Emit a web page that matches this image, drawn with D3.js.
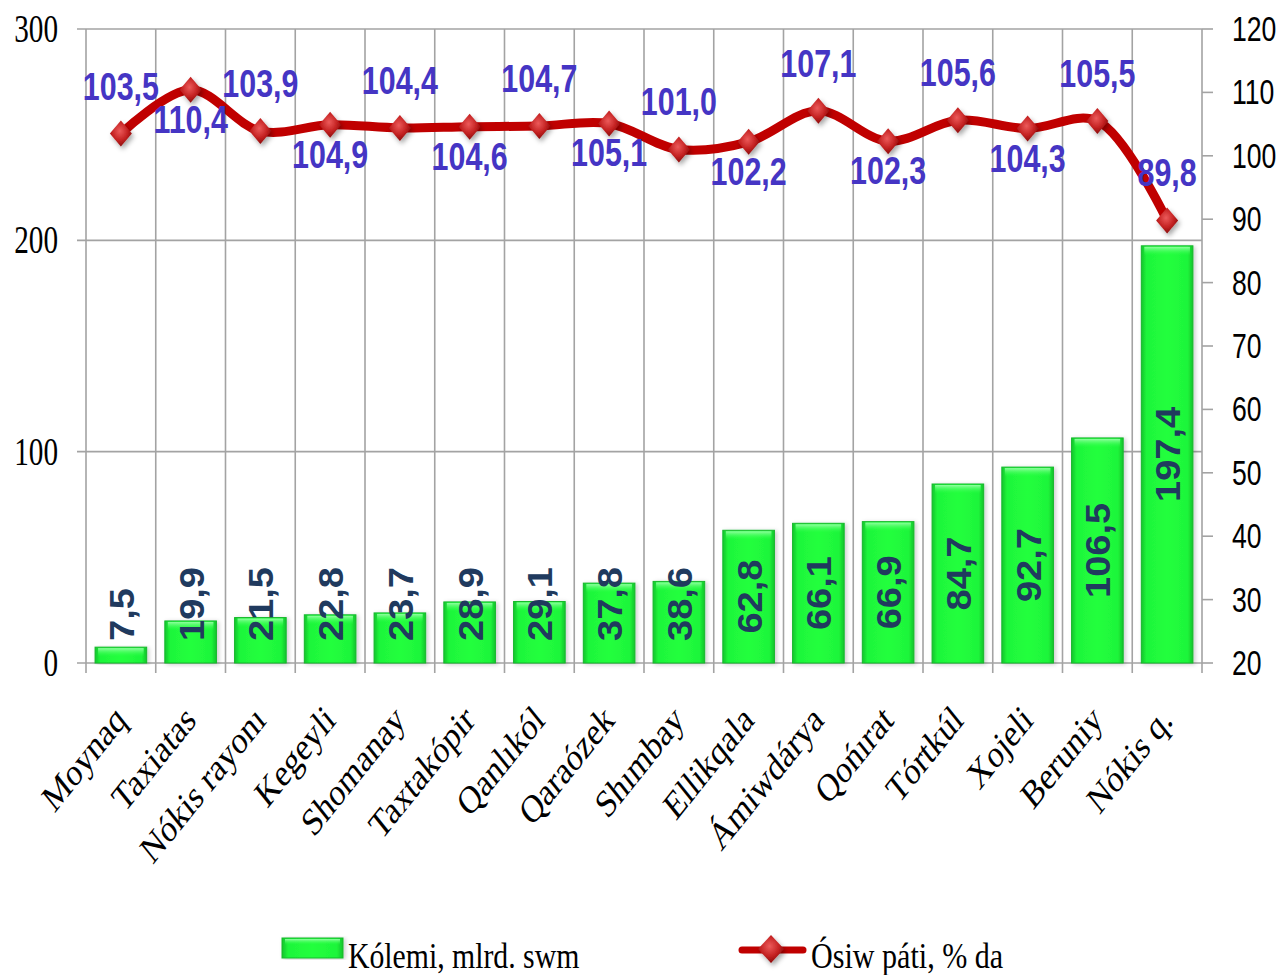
<!doctype html>
<html>
<head>
<meta charset="UTF-8">
<title>Kólemi va ósiw páti</title>
<script src="https://d3js.org/d3.v7.min.js"></script>
<style>
  body { margin: 0; background: #fff; }
  svg { display: block; }
</style>
</head>
<body>
<svg id="chart" width="1283" height="975"></svg>
<script>
// data
var districts = ["Moynaq", "Taxiatas", "Nókis rayonı", "Kegeyli", "Shomanay", "Taxtakópir",
  "Qanlıkól", "Qaraózek", "Shımbay", "Ellikqala", "Ámiwdárya", "Qońırat", "Tórtkúl",
  "Xojeli", "Beruniy", "Nókis q."];
var volume = [7.5, 19.9, 21.5, 22.8, 23.7, 28.9, 29.1, 37.8, 38.6, 62.8, 66.1, 66.9, 84.7, 92.7, 106.5, 197.4];
var growth = [103.5, 110.4, 103.9, 104.9, 104.4, 104.6, 104.7, 105.1, 101.0, 102.2, 107.1, 102.3, 105.6, 104.3, 105.5, 89.8];
var labelSide = ["up", "down", "up", "down", "up", "down", "up", "down", "up", "down", "up", "down", "up", "down", "up", "up"];
var leftTicks = [0, 100, 200, 300];
var rightTicks = [20, 30, 40, 50, 60, 70, 80, 90, 100, 110, 120];
var legendNames = ["Kólemi, mlrd. swm", "Ósiw páti, % da"];

var pLeft = 86, pRight = 1202, pTop = 29, pBottom = 663;
var gridColor = "#a3a3a3";

var svg = d3.select("#chart");
var defs = svg.append("defs");

var fmt = function (v) { return d3.format(".1f")(v).replace(".", ","); };

var x = d3.scaleBand().domain(districts).range([pLeft, pRight]).paddingInner(0.26).paddingOuter(0.13);
var yL = d3.scaleLinear().domain([0, 300]).range([pBottom, pTop]);
var yR = d3.scaleLinear().domain([20, 120]).range([pBottom, pTop]);
var step = x.step();

// gradients / filters
var bg = defs.append("linearGradient").attr("id", "barGrad").attr("x1", 0).attr("x2", 1).attr("y1", 0).attr("y2", 0);
bg.append("stop").attr("offset", "0%").attr("stop-color", "#12c42c");
bg.append("stop").attr("offset", "10%").attr("stop-color", "#1ef53a");
bg.append("stop").attr("offset", "50%").attr("stop-color", "#22ff3e");
bg.append("stop").attr("offset", "90%").attr("stop-color", "#1ef53a");
bg.append("stop").attr("offset", "100%").attr("stop-color", "#12c42c");

var tg = defs.append("linearGradient").attr("id", "barTop").attr("x1", 0).attr("x2", 0).attr("y1", 0).attr("y2", 1);
tg.append("stop").attr("offset", "0%").attr("stop-color", "#9dffab").attr("stop-opacity", 0.9);
tg.append("stop").attr("offset", "100%").attr("stop-color", "#22ff3e").attr("stop-opacity", 0);

var mg = defs.append("radialGradient").attr("id", "markGrad").attr("cx", "45%").attr("cy", "40%").attr("r", "60%");
mg.append("stop").attr("offset", "0%").attr("stop-color", "#ec5a5a");
mg.append("stop").attr("offset", "60%").attr("stop-color", "#c42222");
mg.append("stop").attr("offset", "100%").attr("stop-color", "#8a0c0c");

var sh = defs.append("filter").attr("id", "shadow").attr("x", "-50%").attr("y", "-50%").attr("width", "200%").attr("height", "200%");
sh.append("feDropShadow").attr("dx", 2).attr("dy", 3).attr("stdDeviation", 2.5).attr("flood-color", "#000").attr("flood-opacity", 0.35);

var bsh = defs.append("filter").attr("id", "barShadow").attr("x", "-20%").attr("y", "-10%").attr("width", "140%").attr("height", "120%");
bsh.append("feDropShadow").attr("dx", 2).attr("dy", 1).attr("stdDeviation", 2).attr("flood-color", "#000").attr("flood-opacity", 0.2);

// grid
var grid = svg.append("g");
grid.selectAll(".hg").data(leftTicks).enter().append("line")
  .attr("x1", pLeft - 9).attr("x2", pRight)
  .attr("y1", function (d) { return yL(d); }).attr("y2", function (d) { return yL(d); })
  .attr("stroke", gridColor).attr("stroke-width", 1.6);
grid.selectAll(".vg").data(d3.range(districts.length + 1)).enter().append("line")
  .attr("x1", function (i) { return pLeft + i * step; }).attr("x2", function (i) { return pLeft + i * step; })
  .attr("y1", pTop).attr("y2", pBottom + 10)
  .attr("stroke", gridColor).attr("stroke-width", 1.6);
grid.selectAll(".rt").data(rightTicks).enter().append("line")
  .attr("x1", pRight).attr("x2", pRight + 11)
  .attr("y1", function (d) { return yR(d); }).attr("y2", function (d) { return yR(d); })
  .attr("stroke", gridColor).attr("stroke-width", 1.6);

// axis labels
svg.selectAll(".ll").data(leftTicks).enter().append("text")
  .attr("transform", function (d) { return "translate(58," + (yL(d) + 13) + ") scale(0.73,1)"; })
  .attr("text-anchor", "end")
  .style("font-family", "'Liberation Serif', 'Times New Roman', serif")
  .style("font-size", "40px").style("fill", "#000")
  .text(function (d) { return d; });

svg.selectAll(".rl").data(rightTicks).enter().append("text")
  .attr("transform", function (d) { return "translate(1232," + (yR(d) + 12) + ") scale(0.76,1)"; })
  .style("font-family", "'Liberation Sans Narrow', 'Liberation Sans', Arial, sans-serif")
  .style("font-size", "35px").style("fill", "#000")
  .text(function (d) { return d; });

// category labels (rotated, squeezed)
svg.selectAll(".cl").data(districts).enter().append("text")
  .attr("transform", function (d) {
    return "translate(" + (x(d) + x.bandwidth() / 2 + 7) + ",722) scale(0.8,1) rotate(-45)";
  })
  .attr("text-anchor", "end")
  .style("font-family", "'Liberation Serif', 'Times New Roman', serif")
  .style("font-size", "39px").style("fill", "#000")
  .text(function (d) { return d; });

// bars
var bars = svg.append("g").selectAll("g").data(volume).enter().append("g");
bars.append("rect")
  .attr("x", function (d, i) { return x(districts[i]); })
  .attr("y", function (d) { return yL(d); })
  .attr("width", x.bandwidth())
  .attr("height", function (d) { return pBottom - yL(d); })
  .attr("fill", "url(#barGrad)")
  .attr("stroke", "#15b82c").attr("stroke-width", 1)
  .attr("filter", "url(#barShadow)");
bars.append("rect")
  .attr("x", function (d, i) { return x(districts[i]) + 3; })
  .attr("y", function (d) { return yL(d) + 1; })
  .attr("width", x.bandwidth() - 6)
  .attr("height", function (d) { return Math.min(9, pBottom - yL(d) - 2); })
  .attr("fill", "url(#barTop)");

// bar value labels
var vl = svg.append("g").selectAll("text").data(volume).enter().append("text")
  .attr("text-anchor", "middle")
  .attr("dominant-baseline", "central")
  .style("font-family", "'Liberation Sans', Arial, sans-serif")
  .style("font-weight", "bold")
  .style("font-size", "38px")
  .style("fill", "#203a5e")
  .text(function (d) { return fmt(d); });
vl.attr("transform", function (d, i) {
  var len = this.getComputedTextLength();
  var mid = (yL(d) + pBottom) / 2;
  var cy = Math.min(mid, pBottom - 22 - len / 2);
  return "translate(" + (x(districts[i]) + x.bandwidth() / 2 + 1) + "," + cy + ") rotate(-90) scale(1,0.92)";
});

// growth line
var pts = growth.map(function (g, i) { return [x(districts[i]) + x.bandwidth() / 2, yR(g)]; });
var line = d3.line().curve(d3.curveCatmullRom.alpha(0.5));
svg.append("path")
  .attr("d", line(pts))
  .attr("fill", "none")
  .attr("stroke", "#c00000")
  .attr("stroke-width", 9)
  .attr("stroke-linejoin", "round");

var diamond = "M0,-13L11,0L0,13L-11,0Z";
svg.append("g").selectAll("path").data(pts).enter().append("path")
  .attr("d", diamond)
  .attr("transform", function (d) { return "translate(" + d[0] + "," + d[1] + ")"; })
  .attr("fill", "url(#markGrad)")
  .attr("filter", "url(#shadow)");

svg.append("g").selectAll("text").data(growth).enter().append("text")
  .attr("transform", function (d, i) {
    var p = pts[i];
    var by = labelSide[i] === "up" ? p[1] - 34 : p[1] + 43;
    return "translate(" + p[0] + "," + by + ") scale(0.8,1)";
  })
  .attr("text-anchor", "middle")
  .style("font-family", "'Liberation Sans', Arial, sans-serif")
  .style("font-weight", "bold")
  .style("font-size", "38px")
  .style("fill", "#4535c4")
  .text(function (d) { return fmt(d); });

// legend
var lg = svg.append("g");
lg.append("rect").attr("x", 282).attr("y", 938).attr("width", 61).attr("height", 20)
  .attr("fill", "url(#barGrad)").attr("stroke", "#15b82c").attr("filter", "url(#barShadow)");
lg.append("rect").attr("x", 285).attr("y", 939).attr("width", 55).attr("height", 6).attr("fill", "url(#barTop)");
lg.append("text").attr("transform", "translate(348,968) scale(0.85,1)")
  .style("font-family", "'Liberation Serif', 'Times New Roman', serif")
  .style("font-size", "35px").style("fill", "#000")
  .text(legendNames[0]);
lg.append("line").attr("x1", 742).attr("x2", 803).attr("y1", 950).attr("y2", 950)
  .attr("stroke", "#c00000").attr("stroke-width", 7).attr("stroke-linecap", "round");
lg.append("path").attr("d", "M0,-14L13,0L0,14L-13,0Z").attr("transform", "translate(771,949)")
  .attr("fill", "url(#markGrad)").attr("filter", "url(#shadow)");
lg.append("text").attr("transform", "translate(811,968) scale(0.86,1)")
  .style("font-family", "'Liberation Serif', 'Times New Roman', serif")
  .style("font-size", "35px").style("fill", "#000")
  .text(legendNames[1]);
</script>
</body>
</html>
